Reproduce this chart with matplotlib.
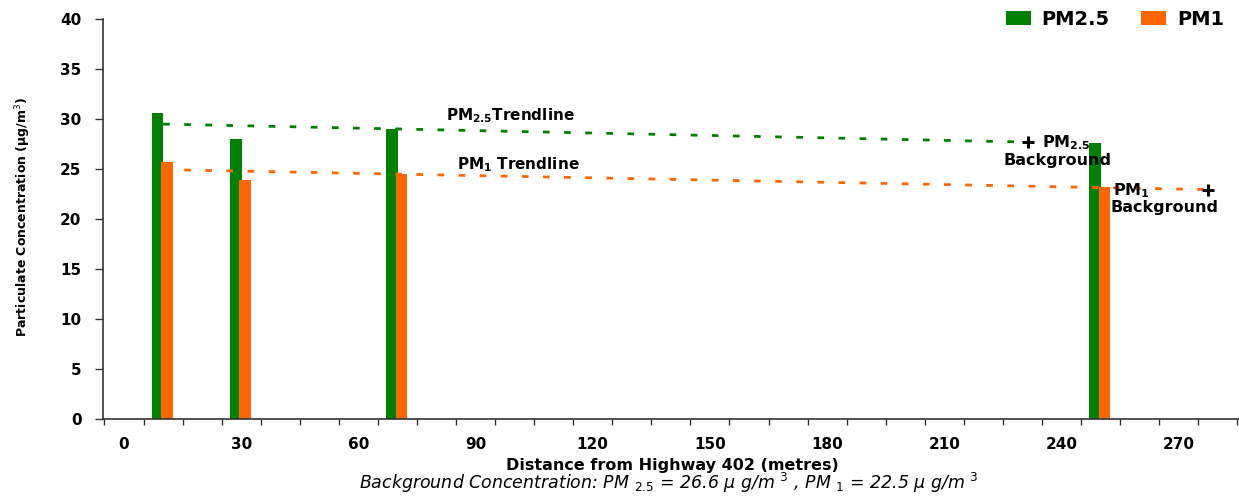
import matplotlib

matplotlib.use("Agg")
import matplotlib.pyplot as plt
from matplotlib.ticker import MultipleLocator, NullFormatter

GREEN = "#008000"
ORANGE = "#FF6600"

# Sampling distance from the highway (m) and measured concentrations (ug/m3)
distances = [10, 30, 70, 250]
pm25 = [30.6, 28.0, 29.0, 27.6]
pm1 = [25.7, 23.9, 24.5, 23.2]

# Background sampling points (PM2.5, PM1) and trendline start values
background_x = [231.5, 277.6]
background_y = [27.7, 22.95]
trend_start_x = 10
pm25_trend_start = 29.5
pm1_trend_start = 24.95

x_tick_values = [0, 30, 60, 90, 120, 150, 180, 210, 240, 270]
x_minor_ticks = list(range(-5, 286, 10))

W, H = 1239, 497
fig = plt.figure(figsize=(W / 100, H / 100), dpi=100)
fig.patch.set_facecolor("white")
ax = fig.add_axes([103 / W, 1 - 419.3 / H, 1 - 103 / W, (419.3 - 19) / H])

ax.bar([d - 1.4 for d in distances], pm25, width=3.0, color=GREEN,
       label="PM2.5", zorder=2)
ax.bar([d + 1.0 for d in distances], pm1, width=2.9, color=ORANGE,
       label="PM1", zorder=2)

# Dashed trendlines running out to the background points
ax.plot([trend_start_x, background_x[0]], [pm25_trend_start, background_y[0]],
        color=GREEN, lw=2, dashes=(2.4, 5.2), zorder=3)
ax.plot([trend_start_x, background_x[1]], [pm1_trend_start, background_y[1]],
        color=ORANGE, lw=2, dashes=(2.4, 5.2), zorder=3)
ax.plot(background_x, background_y, "+", color="black", ms=9, mew=2.2,
        zorder=4)

ax.set_xlim(-5.38, 285.45)
ax.set_ylim(0, 40)

for side in ("top", "right"):
    ax.spines[side].set_visible(False)
for side in ("left", "bottom"):
    ax.spines[side].set_color("#333333")
    ax.spines[side].set_linewidth(1.2)

ax.yaxis.set_major_locator(MultipleLocator(5))
ax.tick_params(axis="y", length=6, width=1, pad=9.5, labelsize=11,
               color="#333333")

# Tick marks every 10 m (offset by 5), labels every 30 m
ax.set_xticks(x_minor_ticks)
ax.xaxis.set_major_formatter(NullFormatter())
ax.set_xticks(x_tick_values, labels=[str(v) for v in x_tick_values],
              minor=True)
ax.tick_params(axis="x", which="major", length=4.5, width=1, color="#333333")
ax.tick_params(axis="x", which="minor", length=0, pad=13, labelsize=11)

for lab in ax.get_xticklabels(minor=True) + ax.get_yticklabels():
    lab.set_fontweight("bold")

bold = dict(fontweight="bold", color="black")
ax.text(98.8, 30.3, r"PM$_{\mathbf{2.5}}$Trendline", ha="center",
        va="center", fontsize=11, **bold)
ax.text(100.9, 25.4, r"PM$_{\mathbf{1}}$ Trendline", ha="center",
        va="center", fontsize=11, **bold)
ax.text(235.0, 27.6, r"PM$_{\mathbf{2.5}}$", ha="left", va="center",
        fontsize=11.5, **bold)
ax.text(238.9, 25.9, "Background", ha="center", va="center",
        fontsize=11.5, **bold)
ax.text(253.1, 22.8, r"PM$_{\mathbf{1}}$", ha="left", va="center",
        fontsize=11.5, **bold)
ax.text(266.3, 21.2, "Background", ha="center", va="center",
        fontsize=11.5, **bold)

fig.text(23 / W, 1 - 217 / H, "Particulate Concentration (μg/m$^3$)",
         rotation=90, ha="center", va="center", fontsize=9,
         fontweight="bold")
fig.text(672 / W, 1 - 470 / H, "Distance from Highway 402 (metres)",
         ha="center", va="baseline", fontsize=11.5, fontweight="bold")
fig.text(669 / W, 1 - 489 / H,
         r"Background Concentration: PM $_{\mathit{2.5}}$ = 26.6 μ g/m $^{\mathit{3}}$ , "
         r"PM $_{\mathit{1}}$ = 22.5 μ g/m $^{\mathit{3}}$",
         ha="center", va="baseline", fontsize=12.5, style="italic")

fig.legend(loc="upper right", bbox_to_anchor=(1224 / W, 1 - 10 / H), ncol=2,
           frameon=False, prop={"weight": "bold", "size": 14},
           handlelength=1.3, handleheight=0.7, handletextpad=0.55,
           columnspacing=1.6, borderpad=0, borderaxespad=0)

fig.savefig("out.png", dpi=100, facecolor="white")
